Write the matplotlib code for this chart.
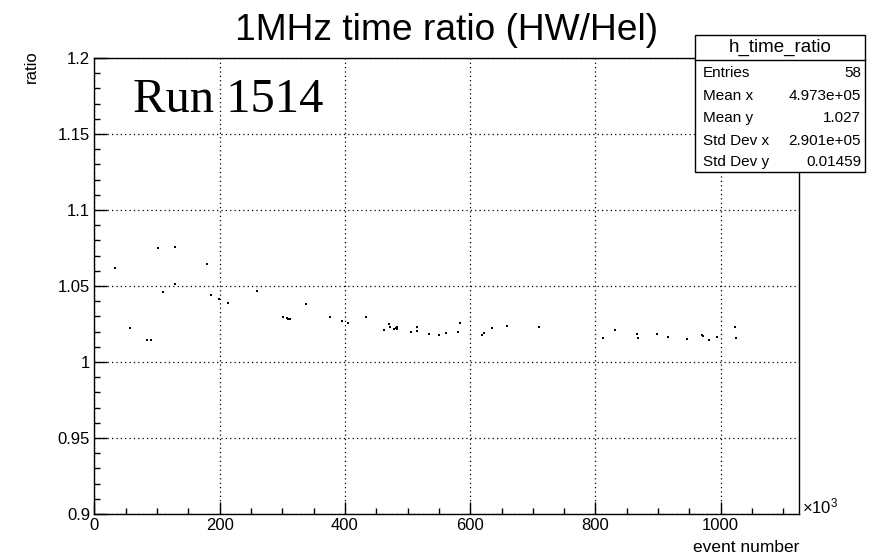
import matplotlib
matplotlib.use("Agg")
import matplotlib.pyplot as plt
from matplotlib.ticker import MultipleLocator
from matplotlib.patches import Rectangle
from matplotlib.lines import Line2D

# ---- data (event number in units of 10^3, ratio) ----
event_k = [33.4, 56.8, 83.5, 89.9, 101.5, 109.0, 128.6, 128.6, 179.2, 186.6,
           199.4, 212.8, 259.0, 300.6, 306.9, 309.5, 312.2, 337.3, 376.5, 394.7,
           404.3, 433.5, 462.7, 469.7, 471.8, 478.2, 480.9, 483.0, 483.0, 504.9,
           514.4, 514.9, 533.6, 550.5, 560.7, 580.4, 583.6, 618.7, 621.4, 634.6,
           658.6, 709.2, 812.3, 831.0, 866.6, 868.2, 897.5, 915.1, 945.4, 969.4,
           971.4, 981.5, 993.8, 1022.5, 1024.1]
ratio = [1.0618, 1.0224, 1.0147, 1.0143, 1.0748, 1.0460, 1.0757, 1.0511, 1.0645, 1.0443,
         1.0417, 1.0391, 1.0470, 1.0294, 1.0288, 1.0283, 1.0281, 1.0382, 1.0299, 1.0268,
         1.0255, 1.0296, 1.0211, 1.0250, 1.0228, 1.0215, 1.0222, 1.0228, 1.0215, 1.0195,
         1.0228, 1.0207, 1.0187, 1.0180, 1.0191, 1.0197, 1.0257, 1.0180, 1.0189, 1.0222,
         1.0237, 1.0228, 1.0158, 1.0213, 1.0182, 1.0156, 1.0182, 1.0164, 1.0151, 1.0178,
         1.0171, 1.0143, 1.0163, 1.0228, 1.0156]

x_ticks = [0, 200, 400, 600, 800, 1000]
x_tick_labels = ["0", "200", "400", "600", "800", "1000"]
y_ticks = [0.9, 0.95, 1.0, 1.05, 1.1, 1.15, 1.2]
y_tick_labels = ["0.9", "0.95", "1", "1.05", "1.1", "1.15", "1.2"]

stat_title = "h_time_ratio"
stat_names = ["Entries", "Mean x", "Mean y", "Std Dev x", "Std Dev y"]
stat_values = ["58", "4.973e+05", "1.027", "2.901e+05", "0.01459"]

title = "1MHz time ratio (HW/Hel)"
x_label = "event number"
y_label = "ratio"
run_label = "Run 1514"

SANS = ["Liberation Sans", "DejaVu Sans"]
SERIF = ["Liberation Serif", "DejaVu Serif"]
plt.rcParams["font.family"] = SANS
plt.rcParams["mathtext.fontset"] = "custom"
plt.rcParams["mathtext.rm"] = "Liberation Sans"
plt.rcParams["mathtext.it"] = "Liberation Sans"

W, H = 872, 559
fig = plt.figure(figsize=(W / 100, H / 100), dpi=100)
fig.patch.set_facecolor("white")

L, R, T, B = 94.4, 799, 58, 514
ax = fig.add_axes([L / W, 1 - B / H, (R - L) / W, (B - T) / H])

ax.scatter(event_k, ratio, s=2.0, marker="s", c="black", linewidths=0, zorder=3)

ax.set_xlim(0, 1125)
ax.set_ylim(0.9, 1.2)

ax.xaxis.set_minor_locator(MultipleLocator(50))
ax.yaxis.set_minor_locator(MultipleLocator(0.01))
ax.set_yticks(y_ticks)
ax.set_yticklabels(y_tick_labels)
ax.set_xticks(x_ticks)
ax.set_xticklabels(x_tick_labels)

ax.tick_params(which="both", direction="in", top=False, right=False,
               labelsize=12, colors="black")
ax.tick_params(axis="y", pad=3)
ax.tick_params(axis="x", pad=3)
ax.tick_params(which="major", length=9, width=1)
ax.tick_params(which="minor", length=4.5, width=1)

ax.grid(True, which="major", color="black", linestyle=(0, (1, 2.5)), linewidth=0.9)
for s in ax.spines.values():
    s.set_linewidth(1.0)
    s.set_color("black")

# title
fig.text((L + R) / 2 / W, 1 - 31 / H, title, ha="center", va="center",
         fontsize=26.7, family=SANS)

# axis labels
fig.text(R / W, 1 - 548 / H, x_label, ha="right", va="center", fontsize=12.5)
fig.text(31 / W, 1 - 50 / H, y_label, ha="center", va="top", rotation=90, fontsize=12)
fig.text((R + 3) / W, 1 - 506 / H, r"$\times10^{3}$", ha="left", va="center", fontsize=12)

# run label
ax.text(0.055, 0.882, run_label, transform=ax.transAxes, ha="left", va="baseline",
        fontsize=35, family=SERIF)

# stat box
bx0, bx1, by0, by1, byh = 695, 865, 35, 172, 60
fig.patches.append(Rectangle((bx0 / W, 1 - by1 / H), (bx1 - bx0) / W, (by1 - by0) / H,
                             transform=fig.transFigure, facecolor="white",
                             edgecolor="black", linewidth=1.0, zorder=10))
fig.lines.append(Line2D([bx0 / W, bx1 / W], [1 - byh / H, 1 - byh / H],
                        transform=fig.transFigure, color="black", linewidth=1.0, zorder=11))
fig.text((bx0 + bx1) / 2 / W, 1 - (by0 + byh) / 2 / H, stat_title, ha="center",
         va="center", fontsize=13.5, zorder=12)
row_y = [73, 96, 118, 141, 162]
for yy, nm, vl in zip(row_y, stat_names, stat_values):
    fig.text(703 / W, 1 - yy / H, nm, ha="left", va="center", fontsize=11, zorder=12)
    fig.text(861 / W, 1 - yy / H, vl, ha="right", va="center", fontsize=11, zorder=12)

fig.savefig("out.png", dpi=100, facecolor="white")
